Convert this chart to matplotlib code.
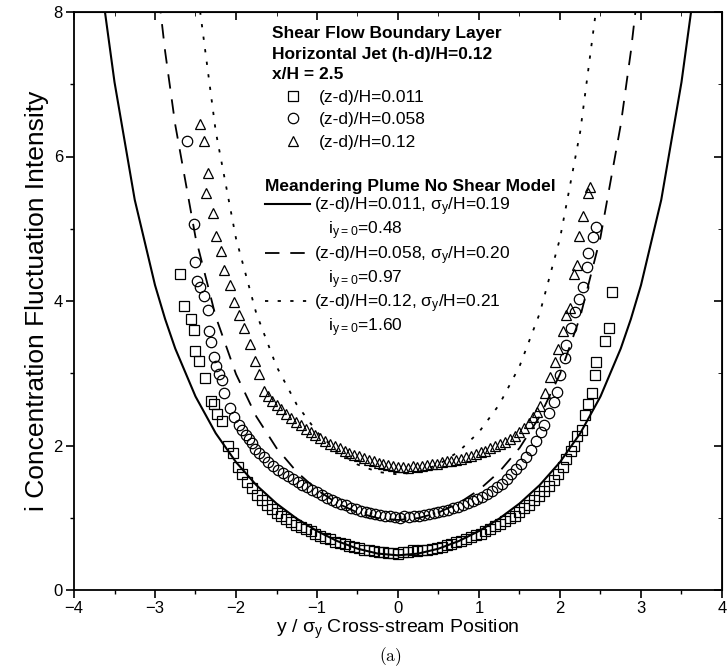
import matplotlib
matplotlib.use("Agg")
import matplotlib.pyplot as plt
from matplotlib.lines import Line2D

plt.rcParams['font.family'] = ['Liberation Sans', 'DejaVu Sans']

# model curves (right half; mirrored for the left half)
mod_x = [0.0, 0.25, 0.5, 0.75, 1.0, 1.25, 1.5, 1.75, 2.0, 2.25, 2.5, 2.75, 2.875, 3.0, 3.25, 3.5, 3.625, 3.75]
solid_y = [0.48, 0.504, 0.572, 0.677, 0.816, 0.988, 1.197, 1.453, 1.770, 2.169, 2.679, 3.342, 3.75, 4.22, 5.40, 7.03, 8.06, 9.28]
dash_y = [0.97, 0.995, 1.072, 1.201, 1.385, 1.635, 1.965, 2.402, 2.988, 3.783, 4.884, 6.439, 7.455, 8.68, 11.0, 14.0, 16.0, 18.0]
dot_y = [1.60, 1.634, 1.737, 1.917, 2.186, 2.566, 3.095, 3.831, 4.866, 6.346, 8.50, 11.5, 13.0, 15.0, 18.0, 21.0, 23.0, 25.0]

# measured data, (z-d)/H = 0.011
sq_x = [-2.69, -2.64, -2.56, -2.52, -2.50, -2.46, -2.38, -2.31, -2.27, -2.23, -2.17, -2.10, -2.04,
        -1.98, -1.92, -1.86, -1.80, -1.74, -1.68, -1.62, -1.56, -1.50, -1.44, -1.38, -1.32, -1.26,
        -1.20, -1.14, -1.08, -1.02, -0.96, -0.90, -0.84, -0.78, -0.72, -0.66, -0.60, -0.54, -0.48,
        -0.42, -0.36, -0.30, -0.24, -0.18, -0.12, -0.06, 0.00, 0.06, 0.12, 0.18, 0.24, 0.30, 0.36,
        0.42, 0.48, 0.54, 0.60, 0.66, 0.72, 0.78, 0.84, 0.90, 0.96, 1.02, 1.08, 1.14, 1.20, 1.26,
        1.32, 1.38, 1.44, 1.50, 1.56, 1.62, 1.68, 1.74, 1.80, 1.86, 1.92, 1.98, 2.04,
        2.08, 2.13, 2.17, 2.21, 2.27, 2.31, 2.35, 2.39, 2.43, 2.45, 2.56, 2.60, 2.64]
sq_y = [4.37, 3.93, 3.75, 3.60, 3.31, 3.17, 2.93, 2.61, 2.58, 2.43, 2.34, 2.00, 1.90,
        1.70, 1.60, 1.49, 1.41, 1.31, 1.24, 1.18, 1.12, 1.07, 1.02, 0.98, 0.94, 0.90,
        0.87, 0.84, 0.81, 0.78, 0.75, 0.72, 0.70, 0.67, 0.65, 0.63, 0.61, 0.59, 0.58,
        0.56, 0.55, 0.54, 0.53, 0.52, 0.51, 0.51, 0.50, 0.52, 0.53, 0.55, 0.54, 0.55, 0.56,
        0.57, 0.58, 0.60, 0.62, 0.64, 0.66, 0.68, 0.70, 0.73, 0.76, 0.78, 0.81, 0.85, 0.88, 0.91,
        0.95, 0.99, 1.03, 1.08, 1.13, 1.18, 1.24, 1.30, 1.37, 1.44, 1.52, 1.60, 1.70,
        1.81, 1.92, 1.99, 2.13, 2.22, 2.42, 2.57, 2.72, 2.98, 3.15, 3.45, 3.62, 4.12]

# (z-d)/H = 0.058
ci_x = [-2.60, -2.52, -2.50, -2.48, -2.44, -2.40, -2.35, -2.33, -2.31, -2.27, -2.25, -2.21, -2.17,
        -2.15, -2.08, -2.02, -1.96, -1.92, -1.88, -1.84, -1.80, -1.76, -1.72, -1.66, -1.60, -1.54,
        -1.48, -1.42, -1.36, -1.30, -1.24, -1.18, -1.12, -1.06, -1.00, -0.94, -0.88, -0.82, -0.76,
        -0.70, -0.64, -0.58, -0.52, -0.46, -0.40, -0.34, -0.28, -0.22, -0.16, -0.10, -0.04, 0.02,
        0.08, 0.14, 0.20, 0.26, 0.32, 0.38, 0.44, 0.50, 0.56, 0.62, 0.68, 0.74, 0.80, 0.86, 0.92,
        0.98, 1.04, 1.10, 1.16, 1.22, 1.28, 1.34, 1.40, 1.46, 1.52, 1.58, 1.64, 1.70, 1.76, 1.80,
        1.86, 1.92, 1.96, 2.00, 2.06, 2.08, 2.14, 2.19, 2.23, 2.29, 2.33, 2.35, 2.41, 2.45]
ci_y = [6.21, 5.07, 4.54, 4.28, 4.19, 4.07, 3.87, 3.58, 3.43, 3.22, 3.10, 2.99, 2.90,
        2.73, 2.52, 2.40, 2.29, 2.21, 2.15, 2.09, 2.03, 1.95, 1.90, 1.84, 1.77, 1.71,
        1.66, 1.62, 1.58, 1.54, 1.50, 1.46, 1.42, 1.38, 1.35, 1.31, 1.28, 1.25, 1.22,
        1.19, 1.17, 1.14, 1.12, 1.10, 1.08, 1.07, 1.05, 1.04, 1.03, 1.02, 1.01, 1.00,
        1.02, 1.01, 1.03, 1.02, 1.04, 1.05, 1.06, 1.08, 1.09, 1.11, 1.13, 1.15, 1.17, 1.20, 1.23,
        1.26, 1.29, 1.33, 1.37, 1.42, 1.47, 1.53, 1.60, 1.67, 1.75, 1.84, 1.94, 2.06, 2.18, 2.28,
        2.45, 2.60, 2.74, 2.98, 3.21, 3.39, 3.62, 3.85, 4.03, 4.20, 4.47, 4.67, 4.88, 5.02]

# (z-d)/H = 0.12
tr_x = [-2.44, -2.40, -2.35, -2.37, -2.29, -2.25, -2.19, -2.15, -2.08, -2.02, -1.96, -1.90, -1.83,
        -1.77, -1.71, -1.65, -1.60, -1.55, -1.50, -1.44, -1.38, -1.32, -1.26, -1.20, -1.14, -1.08,
        -1.02, -0.96, -0.90, -0.84, -0.78, -0.72, -0.66, -0.60, -0.54, -0.48, -0.42, -0.36, -0.30,
        -0.24, -0.18, -0.12, -0.06, 0.00, 0.06, 0.12, 0.18, 0.24, 0.30, 0.36, 0.42, 0.48, 0.54,
        0.60, 0.66, 0.72, 0.78, 0.84, 0.90, 0.96, 1.02, 1.08, 1.14, 1.20, 1.26, 1.32, 1.38, 1.44,
        1.50, 1.56, 1.62, 1.67, 1.71, 1.75, 1.81, 1.88, 1.94, 1.98, 2.04, 2.08, 2.12, 2.17, 2.21,
        2.23, 2.29, 2.35, 2.37]
tr_y = [6.45, 6.21, 5.77, 5.50, 5.22, 4.90, 4.69, 4.43, 4.22, 3.99, 3.81, 3.63, 3.40,
        3.17, 2.99, 2.75, 2.68, 2.62, 2.56, 2.50, 2.44, 2.38, 2.33, 2.28, 2.23, 2.18,
        2.14, 2.10, 2.06, 2.02, 1.99, 1.96, 1.93, 1.90, 1.87, 1.85, 1.83, 1.80, 1.78,
        1.76, 1.75, 1.73, 1.72, 1.70, 1.70, 1.69, 1.71, 1.70, 1.72, 1.73, 1.74, 1.75, 1.77,
        1.78, 1.79, 1.80, 1.82, 1.84, 1.86, 1.88, 1.91, 1.93, 1.96, 1.99, 2.02, 2.05, 2.09, 2.13,
        2.18, 2.24, 2.31, 2.39, 2.46, 2.54, 2.72, 2.95, 3.15, 3.33, 3.59, 3.80, 3.91, 4.38, 4.50,
        4.90, 5.17, 5.49, 5.58]

fig = plt.figure(figsize=(7.28, 6.67), dpi=100)
ax = fig.add_axes([74 / 728, 1 - 590 / 667, 648 / 728, 578 / 667])

neg_x = [-v for v in mod_x[::-1]]
ax.plot(neg_x + mod_x[1:], solid_y[::-1] + solid_y[1:], color='black', lw=1.5)
ax.plot(neg_x + mod_x[1:], dash_y[::-1] + dash_y[1:], color='black', lw=1.3, ls=(0, (8, 6)))
ax.plot(neg_x + mod_x[1:], dot_y[::-1] + dot_y[1:], color='black', lw=1.3, ls=(0, (1.8, 5.2)))

mk = dict(ls='none', mfc='none', mec='black', mew=0.9, ms=7.5)
ax.plot(sq_x, sq_y, marker='s', **mk)
ax.plot(ci_x, ci_y, marker='o', **mk)
ax.plot(tr_x, tr_y, marker='^', **mk)

ax.set_xlim(-4, 4)
ax.set_ylim(0, 8)
ax.set_xticks(range(-4, 5))
ax.set_yticks(range(0, 9, 2))
ax.set_xticks([v + 0.5 for v in range(-4, 4)], minor=True)
ax.set_yticks(range(1, 8, 2), minor=True)
ax.tick_params(which='major', direction='out', length=6, width=1.2, labelsize=12, pad=2)
ax.tick_params(which='minor', direction='out', length=3, width=1.0)
for s in ax.spines.values():
    s.set_linewidth(1.3)

top = ax.secondary_xaxis('top')
top.set_xticks(range(-4, 5))
top.set_xticks([v + 0.5 for v in range(-4, 4)], minor=True)
top.tick_params(which='both', direction='in', labeltop=False)
top.tick_params(which='major', length=6, width=1.2)
top.tick_params(which='minor', length=3)
right = ax.secondary_yaxis('right')
right.set_yticks(range(0, 9, 2))
right.set_yticks(range(1, 8, 2), minor=True)
right.tick_params(which='both', direction='in', labelright=False)
right.tick_params(which='major', length=6, width=1.2)
right.tick_params(which='minor', length=3)

ax.set_xlabel(r'y / $\mathregular{\sigma_y}$ Cross-stream Position', fontsize=14, labelpad=1)
ax.set_ylabel('i Concentration Fluctuation Intensity', fontsize=19, labelpad=3)

# legend: measured data
h1 = [Line2D([], [], marker=m, **mk) for m in ['s', 'o', '^']]
lab1 = ['(z-d)/H=0.011', '(z-d)/H=0.058', '(z-d)/H=0.12']
leg1 = ax.legend(h1, lab1, loc='upper left', bbox_to_anchor=(0.3056, 0.975),
                 title='Shear Flow Boundary Layer\nHorizontal Jet (h-d)/H=0.12\nx/H = 2.5',
                 title_fontproperties={'weight': 'bold', 'size': 12.5},
                 alignment='left', frameon=False, borderpad=0, borderaxespad=0,
                 fontsize=12.5, handlelength=2.4, handletextpad=0.3, labelspacing=0.42)
leg1.get_title().set_linespacing(1.45)
ax.add_artist(leg1)

# legend: model
blank = Line2D([], [], ls='none')
h2 = [Line2D([], [], color='black', lw=1.5), blank,
      Line2D([], [], color='black', lw=1.3, ls=(0, (8, 6))), blank,
      Line2D([], [], color='black', lw=1.3, ls=(0, (1.8, 5.2))), blank]
lab2 = [r'(z-d)/H=0.011, $\mathregular{\sigma_y}$/H=0.19', r'   $\mathregular{i_{y=0}}$=0.48',
        r'(z-d)/H=0.058, $\mathregular{\sigma_y}$/H=0.20', r'   $\mathregular{i_{y=0}}$=0.97',
        r'(z-d)/H=0.12, $\mathregular{\sigma_y}$/H=0.21', r'   $\mathregular{i_{y=0}}$=1.60']
leg2 = ax.legend(h2, lab2, loc='upper left', bbox_to_anchor=(0.295, 0.711),
                 title='Meandering Plume No Shear Model',
                 title_fontproperties={'weight': 'bold', 'size': 12.5},
                 alignment='left', frameon=False, borderpad=0, borderaxespad=0,
                 fontsize=12.5, handlelength=2.6, handletextpad=0.2, labelspacing=0.09)

fig.text(0.536, 0.016, r'$\mathrm{(a)}$', fontsize=12.5, ha='center', va='center',
         math_fontfamily='cm')

fig.savefig('out.png', dpi=100)
